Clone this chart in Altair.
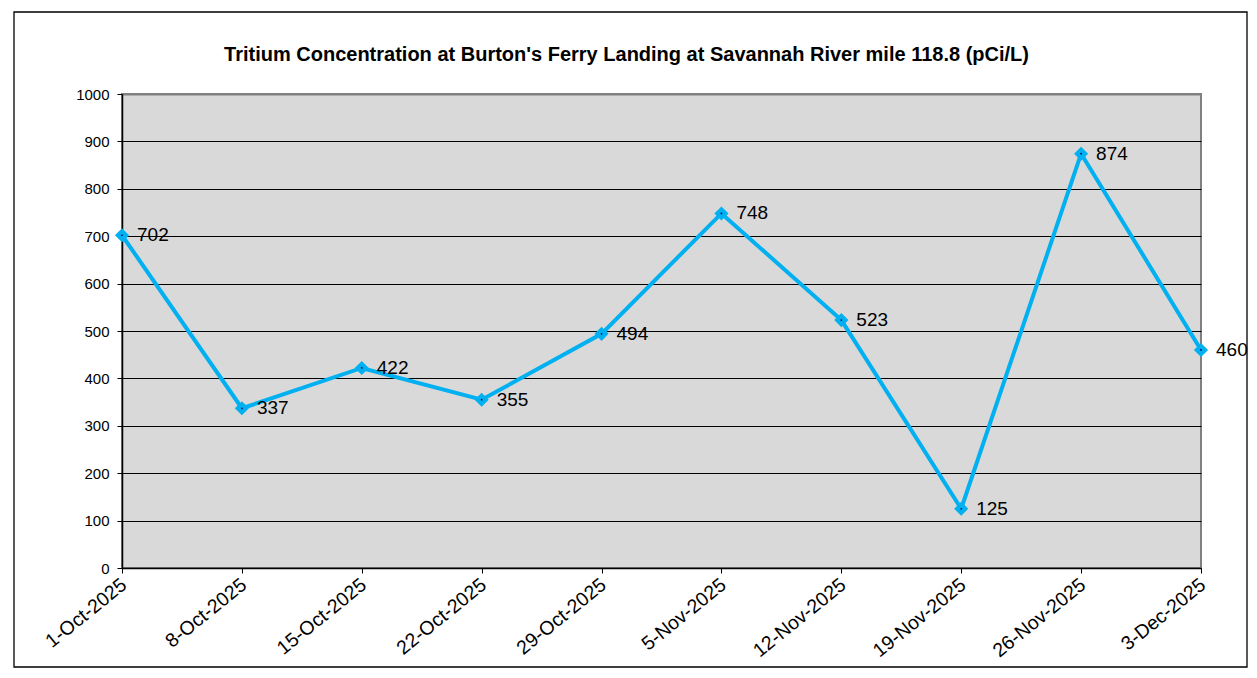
import altair as alt
import pandas as pd

dates = ["1-Oct-2025", "8-Oct-2025", "15-Oct-2025", "22-Oct-2025", "29-Oct-2025",
         "5-Nov-2025", "12-Nov-2025", "19-Nov-2025", "26-Nov-2025", "3-Dec-2025"]
values = [702, 337, 422, 355, 494, 748, 523, 125, 874, 460]
y_ticks = [0, 100, 200, 300, 400, 500, 600, 700, 800, 900, 1000]
title_text = "Tritium Concentration at Burton's Ferry Landing at Savannah River mile 118.8 (pCi/L)"

df = pd.DataFrame({"date": dates, "value": values})

FONT = "Liberation Sans"
LINE = "#00b0f0"

x_enc = alt.X("date:N", sort=dates, title=None,
              scale=alt.Scale(type="point", padding=0),
              axis=alt.Axis(labelAngle=-39, labelAlign="right", labelBaseline="top",
                            labelFontSize=19.5, labelFont=FONT, labelColor="black",
                            labelPadding=2, labelOffset=-4, tickColor="black", tickSize=5,
                            domainColor="black", domainWidth=1.5, grid=False))
y_enc = alt.Y("value:Q", title=None,
              scale=alt.Scale(domain=[0, 1000], nice=False),
              axis=alt.Axis(values=y_ticks, format="d", labelFontSize=15, labelFont=FONT,
                            labelColor="black", labelPadding=8, tickColor="black",
                            tickSize=5, domainColor="black", domainWidth=1.5,
                            grid=True,
                            gridColor={"condition": {"test": "datum.value === 1000", "value": "#808080"},
                                       "value": "black"},
                            gridWidth={"condition": {"test": "datum.value === 1000", "value": 2},
                                       "value": 1},
                            gridOpacity=1))

base = alt.Chart(df)

line = base.mark_line(color=LINE, strokeWidth=4).encode(x=x_enc, y=y_enc)
pts = base.mark_point(shape="diamond", filled=True, color=LINE, size=200, opacity=1).encode(x=x_enc, y=y_enc)
dots = base.mark_point(shape="circle", filled=True, color="#000060", size=3, opacity=1).encode(x=x_enc, y=y_enc)
labels = base.mark_text(align="left", baseline="middle", dx=15, fontSize=19, font=FONT,
                        color="black").encode(x=x_enc, y=y_enc, text="value:Q")

frame = alt.Chart(pd.DataFrame({"k": [0]})).mark_rect(
    fill=None, stroke="black", strokeWidth=1.3, clip=False
).encode(x=alt.value(-108), x2=alt.value(1125), y=alt.value(-82), y2=alt.value(573))

chart = alt.layer(line, pts, dots, labels, frame).properties(
    width=1079, height=474,
    title=alt.TitleParams(title_text, font=FONT, fontSize=20, fontWeight="bold",
                          color="black", anchor="middle", dx=-35, offset=-54),
    autosize=alt.AutoSizeParams(type="none"),
    padding={"left": 114, "top": 86, "right": 48, "bottom": 100},
    background="white",
).configure_view(
    fill="#d9d9d9", stroke="#808080", strokeWidth=2
)

chart.save("out.html", embed_options={"renderer": "svg", "actions": False})
